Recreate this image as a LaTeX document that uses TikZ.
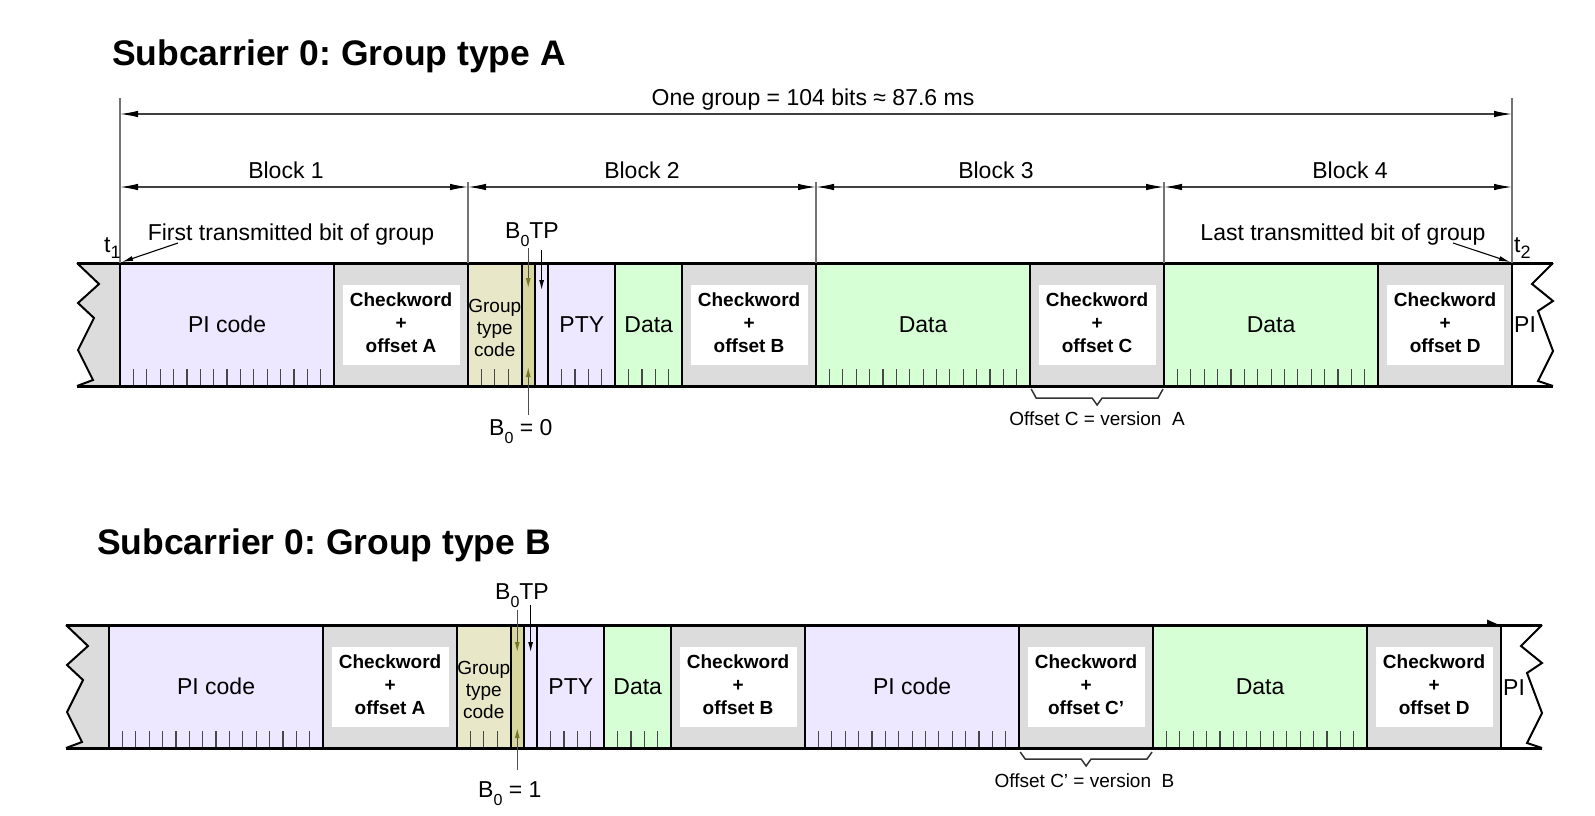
\documentclass[tikz,border=0pt]{standalone}
\usepackage{fontspec}
\setmainfont{Liberation Sans}
\usetikzlibrary{arrows.meta}
\definecolor{pifill}{RGB}{237,231,255}
\definecolor{cwgray}{RGB}{220,220,220}
\definecolor{gtfill}{RGB}{232,232,200}
\definecolor{bzfill}{RGB}{214,214,158}
\definecolor{datafill}{RGB}{214,255,214}
\definecolor{olivearrow}{RGB}{120,120,40}
\def\bw{13.385}
\newcommand\mkfield[7]{%
  \node[fieldbox,#6,minimum width={#5*\bw pt},anchor=north west] (#1) at ({#2+#4*\bw},#3) {};
  \ifnum#7>0 \foreach \k in {1,...,#7}{\draw[tickline] ({#2+(#4+\k)*\bw},{#3+123}) -- ++(0,-17);}\fi
}
\newcommand\cwfill[2]{%
  \node[whitebox] (#1w) at (#1.center) {};
  \node[cwlabel] (#1t) at ([yshift=2pt]#1.center) {Checkword\\+\\offset #2};
}
\frenchspacing
\begin{document}
\begin{tikzpicture}[x=1pt,y=-1pt,
  fieldbox/.style={draw, line width=2pt, minimum height=123pt, inner sep=0pt, outer sep=0pt},
  pist/.style={fill=pifill}, cwst/.style={fill=cwgray}, gtst/.style={fill=gtfill},
  bzst/.style={fill=bzfill}, dast/.style={fill=datafill},
  tickline/.style={line width=1.2pt, draw=black!72},
  whitebox/.style={fill=white, minimum width=117pt, minimum height=80pt, inner sep=0pt},
  cwlabel/.style={font=\fontsize{19}{23}\selectfont\bfseries, align=center, inner sep=0pt},
  lbl/.style={font=\fontsize{23}{27}\selectfont, inner sep=0pt},
  smalllbl/.style={font=\fontsize{19}{22}\selectfont, inner sep=0pt, align=center},
  titlelbl/.style={font=\fontsize{35.5}{40}\selectfont\bfseries, inner sep=0pt},
  dimst/.style={line width=1.2pt, draw=black!75, {Latex[length=18pt,width=6.5pt,color=black]}-{Latex[length=18pt,width=6.5pt,color=black]}},
  vline/.style={line width=1.2pt, draw=black!55},
  ptr/.style={line width=1.1pt, -{Latex[length=11pt,width=5pt]}},
  b0arr/.style={line width=1.1pt, draw=black!70, -{Latex[length=10pt,width=5pt,color=olivearrow]}},
  tparr/.style={line width=1.1pt, -{Latex[length=10pt,width=5pt]}},
  zig/.style={line width=2pt, line join=miter},
  bracest/.style={line width=1.5pt, draw=black!80},
  barline/.style={line width=3pt}
]
\useasboundingbox (0,0) rectangle (1595,815);

% ===== Titles =====
\node[titlelbl, anchor=base west] (titleA) at (112,65.5) {Subcarrier 0: Group type A};
\node[titlelbl, anchor=base west] (titleB) at (97,554.5) {Subcarrier 0: Group type B};

% ===== Top group =====
\fill[cwgray] (77,263) -- ++(22,21) -- ++(-21,19) -- ++(16,15) -- ++(-16,32) -- ++(15,30) -- ++(-16,6) -- (120,386) -- (120,263) -- cycle;
\draw[zig] (77,263) -- ++(22,21) -- ++(-21,19) -- ++(16,15) -- ++(-16,32) -- ++(15,30) -- ++(-16,6);

\mkfield{piA}{120}{263}{0}{16}{pist}{15}
\mkfield{cwA}{120}{263}{16}{10}{cwst}{0}
\mkfield{gtA}{120}{263}{26}{4}{gtst}{3}
\mkfield{bzA}{120}{263}{30}{1}{bzst}{0}
\mkfield{tpA}{120}{263}{31}{1}{pist}{0}
\mkfield{ptyA}{120}{263}{32}{5}{pist}{4}
\mkfield{daA}{120}{263}{37}{5}{dast}{4}
\mkfield{cwB}{120}{263}{42}{10}{cwst}{0}
\mkfield{dbA}{120}{263}{52}{16}{dast}{15}
\mkfield{cwC}{120}{263}{68}{10}{cwst}{0}
\mkfield{dcA}{120}{263}{78}{16}{dast}{15}
\mkfield{cwD}{120}{263}{94}{10}{cwst}{0}

\draw[zig] (1553,263) -- ++(-21,21) -- ++(21,17) -- ++(-15,10) -- ++(15,40) -- ++(-15,30) -- ++(15,5);
\draw[barline] (77,263) -- (1553,263);
\draw[barline] (77,386) -- (1553,386);

\cwfill{cwA}{A}
\cwfill{cwB}{B}
\cwfill{cwC}{C}
\cwfill{cwD}{D}
\node[lbl] (piAt) at (piA.center) {PI code};
\node[smalllbl] (gtAt) at ([yshift=-3pt]gtA.center) {Group\\type\\code};
\node[lbl] (ptyAt) at (ptyA.center) {PTY};
\node[lbl] (daAt) at (daA.center) {Data};
\node[lbl] (dbAt) at (dbA.center) {Data};
\node[lbl] (dcAt) at (dcA.center) {Data};
\node[lbl, anchor=west] (piendA) at (1514,325) {PI};

% dimension lines
\draw[vline] (piA.north west) -- ++(0,-165);
\draw[vline] (cwD.north east) -- ++(0,-165);
\draw[vline] (gtA.north west) -- ++(0,-81);
\draw[vline] (dbA.north west) -- ++(0,-81);
\draw[vline] (dcA.north west) -- ++(0,-81);
\coordinate (gL) at (120,114);
\coordinate (gR) at (1512,114);
\draw[dimst] (gL) -- (gR);
\node[lbl, anchor=base] (grp) at (813,105) {One group = 104 bits ≈ 87.6 ms};
\coordinate (k0) at (120,187);
\coordinate (k1) at (468,187);
\coordinate (k2) at (816,187);
\coordinate (k3) at (1164,187);
\coordinate (k4) at (1512,187);
\draw[dimst] (k0) -- (k1);
\draw[dimst] (k1) -- (k2);
\draw[dimst] (k2) -- (k3);
\draw[dimst] (k3) -- (k4);
\node[lbl, anchor=base] (bl1) at (286,178) {Block 1};
\node[lbl, anchor=base] (bl2) at (642,178) {Block 2};
\node[lbl, anchor=base] (bl3) at (996,178) {Block 3};
\node[lbl, anchor=base] (bl4) at (1350,178) {Block 4};

% first / last bit
\node[lbl, anchor=base] (first) at (291,240) {First transmitted bit of group};
\node[lbl, anchor=base] (last) at (1343,240) {Last transmitted bit of group};
\coordinate (firstp) at (178,243);
\coordinate (lastp) at (1453,243);
\draw[ptr] (firstp) -- ([shift={(2,-1)}]piA.north west);
\draw[ptr] (lastp) -- ([shift={(-2,-1)}]cwD.north east);
\node[lbl, anchor=base west] (t1) at (104,252) {t\raisebox{-6pt}{\fontsize{18}{18}\selectfont 1}};
\node[lbl, anchor=base west] (t2) at (1514,252) {t\raisebox{-6pt}{\fontsize{18}{18}\selectfont 2}};

% B0 / TP
\node[lbl, anchor=base west] (bztpA) at (505,238) {B\raisebox{-8pt}{\fontsize{16}{16}\selectfont 0}TP};
\draw[b0arr] ([yshift=15pt]bzA.north) -- ([yshift=-25pt]bzA.north);
\draw[tparr] ([yshift=13pt]tpA.north) -- ([yshift=-27pt]tpA.north);
\draw[b0arr] ([yshift=-29pt]bzA.south) -- ([yshift=19pt]bzA.south);
\node[lbl, anchor=base west] (bzeq0) at (489,435) {B\raisebox{-8pt}{\fontsize{16}{16}\selectfont 0} = 0};

% brace C
\draw[bracest] ([shift={(1,3)}]cwC.south west) -- ([shift={(6,12)}]cwC.south west) -- ([shift={(-5,12)}]cwC.south) -- ([shift={(0,19)}]cwC.south) -- ([shift={(5,12)}]cwC.south) -- ([shift={(-6,12)}]cwC.south east) -- ([shift={(-1,3)}]cwC.south east);
\node[smalllbl, anchor=base] (offC) at (1097,425) {Offset C = version~ A};

% ===== Bottom group =====
\fill[cwgray] (66,625) -- ++(22,21) -- ++(-21,19) -- ++(16,15) -- ++(-16,32) -- ++(15,30) -- ++(-16,6) -- (109,748) -- (109,625) -- cycle;
\draw[zig] (66,625) -- ++(22,21) -- ++(-21,19) -- ++(16,15) -- ++(-16,32) -- ++(15,30) -- ++(-16,6);

\mkfield{piB}{109}{625}{0}{16}{pist}{15}
\mkfield{cwAb}{109}{625}{16}{10}{cwst}{0}
\mkfield{gtB}{109}{625}{26}{4}{gtst}{3}
\mkfield{bzB}{109}{625}{30}{1}{bzst}{0}
\mkfield{tpB}{109}{625}{31}{1}{pist}{0}
\mkfield{ptyB}{109}{625}{32}{5}{pist}{4}
\mkfield{daB}{109}{625}{37}{5}{dast}{4}
\mkfield{cwBb}{109}{625}{42}{10}{cwst}{0}
\mkfield{piC}{109}{625}{52}{16}{pist}{15}
\mkfield{cwCb}{109}{625}{68}{10}{cwst}{0}
\mkfield{dcB}{109}{625}{78}{16}{dast}{15}
\mkfield{cwDb}{109}{625}{94}{10}{cwst}{0}

\draw[zig] (1542,625) -- ++(-21,21) -- ++(21,17) -- ++(-15,10) -- ++(15,40) -- ++(-15,30) -- ++(15,5);
\draw[barline] (66,625) -- (1542,625);
\draw[barline] (66,748) -- (1542,748);
\fill (1487,619.5) -- (1497,624) -- (1487,625) -- cycle;

\cwfill{cwAb}{A}
\cwfill{cwBb}{B}
\cwfill{cwCb}{C’}
\cwfill{cwDb}{D}
\node[lbl] (piBt) at (piB.center) {PI code};
\node[smalllbl] (gtBt) at ([yshift=-3pt]gtB.center) {Group\\type\\code};
\node[lbl] (ptyBt) at (ptyB.center) {PTY};
\node[lbl] (daBt) at (daB.center) {Data};
\node[lbl] (piCt) at (piC.center) {PI code};
\node[lbl] (dcBt) at (dcB.center) {Data};
\node[lbl, anchor=west] (piendB) at (1503,688) {PI};

\node[lbl, anchor=base west] (bztpB) at (495,599) {B\raisebox{-8pt}{\fontsize{16}{16}\selectfont 0}TP};
\draw[b0arr] ([yshift=15pt]bzB.north) -- ([yshift=-27pt]bzB.north);
\draw[tparr] ([yshift=20pt]tpB.north) -- ([yshift=-27pt]tpB.north);
\draw[b0arr] ([yshift=-22pt]bzB.south) -- ([yshift=20pt]bzB.south);
\node[lbl, anchor=base west] (bzeq1) at (478,797) {B\raisebox{-8pt}{\fontsize{16}{16}\selectfont 0} = 1};

\draw[bracest] ([shift={(1,4)}]cwCb.south west) -- ([shift={(6,11)}]cwCb.south west) -- ([shift={(-5,11)}]cwCb.south) -- ([shift={(0,18)}]cwCb.south) -- ([shift={(5,11)}]cwCb.south) -- ([shift={(-6,11)}]cwCb.south east) -- ([shift={(-1,4)}]cwCb.south east);
\node[smalllbl, anchor=base] (offCb) at (1084.5,787) {Offset C’ = version~ B};
\end{tikzpicture}
\end{document}
